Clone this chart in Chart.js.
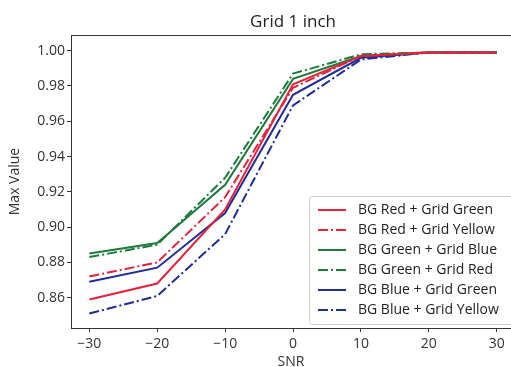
<!DOCTYPE html>
<html>
<head>
<meta charset="utf-8">
<script src="https://cdn.jsdelivr.net/npm/chart.js@4.4.1/dist/chart.umd.min.js"></script>
<style>
html, body { margin: 0; padding: 0; background: #fff; }
#wrap { width: 511px; height: 367px; }
</style>
</head>
<body>
<div id="wrap"><canvas id="grid-chart"></canvas></div>
<script>
const snr = [-30, -20, -10, 0, 10, 20, 30];

const redGreen = [0.859, 0.868, 0.910, 0.981, 0.997, 0.999, 0.999];
const redYellow = [0.872, 0.880, 0.917, 0.979, 0.997, 0.999, 0.999];
const greenBlue = [0.885, 0.891, 0.924, 0.984, 0.997, 0.999, 0.999];
const greenRed = [0.883, 0.890, 0.928, 0.987, 0.998, 0.999, 0.999];
const blueGreen = [0.869, 0.877, 0.908, 0.975, 0.996, 0.999, 0.999];
const blueYellow = [0.851, 0.861, 0.896, 0.969, 0.995, 0.999, 0.999];

const seriesNames = [
    'BG Red + Grid Green',
    'BG Red + Grid Yellow',
    'BG Green + Grid Blue',
    'BG Green + Grid Red',
    'BG Blue + Grid Green',
    'BG Blue + Grid Yellow'
];

const xTicks = [-30, -20, -10, 0, 10, 20, 30];
const yTicks = [0.86, 0.88, 0.90, 0.92, 0.94, 0.96, 0.98, 1.00];

const RED = '#e5223c';
const GREEN = '#1e7a3c';
const BLUE = '#1f2c96';
const DASHDOT = [10, 3, 2, 3];

function series(name, values, color, dash) {
    return {
        label: name,
        data: snr.map((x, i) => ({ x: x, y: values[i] })),
        borderColor: color,
        backgroundColor: color,
        borderWidth: 2,
        borderDash: dash,
        pointRadius: 0,
        tension: 0,
        fill: false
    };
}

const FONT = '"Open Sans", "DejaVu Sans", sans-serif';

// title, top frame line and the in-plot legend
const extras = {
    id: 'extras',
    afterDraw(chart) {
        const ctx = chart.ctx;
        const area = chart.chartArea;
        const xs = chart.scales.x;
        ctx.save();

        ctx.strokeStyle = '#333';
        ctx.lineWidth = 1;
        ctx.beginPath();
        ctx.moveTo(area.left, area.top + 0.5);
        ctx.lineTo(area.right, area.top + 0.5);
        ctx.stroke();

        ctx.fillStyle = '#222';
        ctx.font = '17px ' + FONT;
        ctx.textAlign = 'center';
        ctx.textBaseline = 'middle';
        ctx.fillText('Grid 1 inch', xs.getPixelForValue(0), 22);

        // legend box
        const bx = 309, by = 196, bw = 215, bh = 128;
        ctx.fillStyle = 'rgba(255,255,255,0.85)';
        ctx.strokeStyle = '#d0d0d0';
        ctx.beginPath();
        ctx.roundRect(bx + 0.5, by + 0.5, bw, bh, 3);
        ctx.fill();
        ctx.stroke();

        ctx.font = '14px ' + FONT;
        ctx.textAlign = 'left';
        chart.data.datasets.forEach((ds, i) => {
            const y = 210 + i * 20;
            ctx.strokeStyle = ds.borderColor;
            ctx.lineWidth = 2;
            ctx.setLineDash(ds.borderDash || []);
            ctx.beginPath();
            ctx.moveTo(318, y);
            ctx.lineTo(346, y);
            ctx.stroke();
            ctx.setLineDash([]);
            ctx.fillStyle = '#222';
            ctx.fillText(ds.label, 358, y);
        });
        ctx.restore();
    }
};

const ctx = document.getElementById('grid-chart');

new Chart(ctx, {
    type: 'line',
    data: {
        datasets: [
            series(seriesNames[0], redGreen, RED, []),
            series(seriesNames[1], redYellow, RED, DASHDOT),
            series(seriesNames[2], greenBlue, GREEN, []),
            series(seriesNames[3], greenRed, GREEN, DASHDOT),
            series(seriesNames[4], blueGreen, BLUE, []),
            series(seriesNames[5], blueYellow, BLUE, DASHDOT)
        ]
    },
    options: {
        responsive: true,
        maintainAspectRatio: false,
        animation: false,
        layout: {
            padding: { top: 35, right: 0, bottom: 0, left: 0 }
        },
        plugins: {
            legend: { display: false },
            tooltip: { enabled: false }
        },
        scales: {
            x: {
                type: 'linear',
                min: -32.7,
                max: 32.1,
                afterBuildTicks: (s) => { s.ticks = xTicks.map(v => ({ value: v })); },
                afterFit: (s) => { s.height = 39; },
                grid: {
                    drawOnChartArea: false,
                    drawTicks: true,
                    tickLength: 4,
                    color: '#333'
                },
                border: { color: '#333' },
                ticks: {
                    autoSkip: false,
                    maxRotation: 0,
                    padding: 4,
                    color: '#333',
                    font: { size: 14, family: FONT },
                    callback: (v) => v < 0 ? '\u2212' + Math.abs(v) : String(v)
                },
                title: {
                    display: true,
                    text: 'SNR',
                    color: '#333',
                    font: { size: 14, family: FONT },
                    padding: { top: 0, bottom: -3 }
                }
            },
            y: {
                min: 0.8428,
                max: 1.0089,
                afterBuildTicks: (s) => { s.ticks = yTicks.map(v => ({ value: v })); },
                afterFit: (s) => { s.width = 71; },
                grid: {
                    drawOnChartArea: false,
                    drawTicks: true,
                    tickLength: 4,
                    color: '#333'
                },
                border: { color: '#333' },
                ticks: {
                    padding: 2,
                    color: '#333',
                    font: { size: 14, family: FONT },
                    callback: (v) => Number(v).toFixed(2)
                },
                title: {
                    display: true,
                    text: 'Max Value',
                    color: '#333',
                    font: { size: 14, family: FONT },
                    padding: { top: 7, bottom: 0 }
                }
            }
        }
    },
    plugins: [extras]
});
</script>
</body>
</html>
